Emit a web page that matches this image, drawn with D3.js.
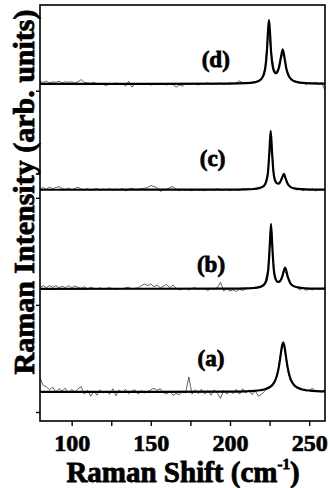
<!DOCTYPE html>
<html>
<head>
<meta charset="utf-8">
<script src="https://cdn.jsdelivr.net/npm/d3@7"></script>
<style>
body{margin:0;background:#fff}
svg text{font-family:"Liberation Serif","Times New Roman",serif;font-weight:bold;fill:#000;stroke:#000;stroke-width:0.8px}
</style>
</head>
<body>
<svg></svg>
<script>
// Raman spectra, four samples (a)-(d), stacked with vertical offsets
// raw data is sampled every 2 cm-1, fit curve is the thick black line

const shift_grid = [80,82,84,86,88,90,92,94,96,98,100,102,104,106,108,110,112,114,116,118,
  120,122,124,126,128,130,132,134,136,138,140,142,144,146,148,150,152,154,156,158,
  160,162,164,166,168,170,172,174,176,178,180,182,184,186,188,190,192,194,196,198,
  200,202,204,206,208,210,212,214,216,218,220,222,224,226,228,230,232,234,236,238,
  240,242,244,246,248,250,252,254,256,258,260];

// raw intensity (arb.) relative to each trace's baseline
const raw_a = [.13,.06,.05,.02,.045,0,.03,.01,.035,-.01,.025,0,.03,.05,-.02,.015,-.04,.01,-.03,.02,
  -.01,.005,-.02,.03,-.035,.02,-.01,.025,-.015,.01,.02,-.02,.015,-.01,.005,.02,.035,.015,.03,-.005,
  -.02,.01,-.03,-.015,-.025,.01,-.01,.14,-.02,.02,-.015,.025,-.02,.015,-.03,.02,-.01,-.06,.015,-.02,
  .01,-.015,.025,-.02,.03,-.01,.02,-.025,.01,-.04,-.02,.01,.04,.06,.09,.17,.36,.45,.24,.11,
  .07,.04,.03,.02,.01,.015,.035,.005,.01,0,.02];
const raw_b = [.01,.03,.01,.03,.015,.03,.01,.025,.01,.03,.01,.025,.015,.005,.02,0,.015,.005,0,.01,
  -.005,.005,.01,0,-.005,.005,0,.01,.015,0,.005,.01,.03,.045,.03,.045,.02,.035,.01,.025,
  .04,.01,.035,.005,-.01,0,.005,-.01,.005,.01,-.005,.005,0,-.015,.005,0,.01,.06,-.02,0,
  -.02,-.01,-.025,-.005,-.015,0,.005,.01,.005,.015,.03,.055,.19,.58,.10,.065,.085,.17,.13,.05,
  .02,.015,-.01,.005,-.015,0,-.01,.005,-.005,0,.01];
const raw_c = [.01,.02,.005,.025,.01,.02,.03,.01,.005,.015,0,.01,.025,.005,0,.01,-.005,.005,.01,-.005,
  .005,0,.01,-.005,.005,0,.01,-.01,.005,.015,0,.005,.01,.015,.02,.04,.03,.02,-.015,0,
  .005,.02,.03,.005,-.01,.005,-.005,0,-.01,.005,-.005,0,-.01,.005,0,-.005,.01,-.005,0,.005,
  -.01,.005,0,-.005,.01,.005,.01,.005,.01,.02,.025,.05,.17,.48,.08,.06,.08,.14,.07,.03,
  .015,0,.01,-.01,.005,-.005,.01,-.01,0,.005,-.005];
const raw_d = [.02,.015,.025,.01,.02,.015,.025,.01,.02,.015,.02,.01,.02,.04,.015,.01,.005,.015,0,.005,
  -.005,-.015,.005,0,.01,-.005,.005,-.02,.025,-.03,0,.005,-.005,0,.005,-.01,0,.005,-.005,0,
  -.01,.005,-.005,-.03,-.01,-.02,.005,-.005,.005,0,-.01,.005,0,.01,-.005,.005,0,.01,-.005,.005,
  .01,.005,.01,.03,.01,.015,.01,.015,.02,.03,.055,.14,.48,.30,.12,.12,.24,.28,.12,.055,
  .03,.02,.005,.015,-.005,.01,0,.015,.005,.01,-.06];

// fitted curves
const fit_x_a = [80,200,210,215,219,222,225,227,228.5,229.7,230.8,231.8,232.7,233.6,234.5,235.4,236.4,237.5,238.7,240.2,242.2,245.2,248.2,252.2,257.2,260];
const fit_y_a = [0,.0032,.0064,.0102,.0163,.0253,.0441,.0701,.1065,.1565,.23,.3255,.417,.46,.417,.3255,.23,.1565,.1065,.0701,.0441,.0253,.0163,.0102,.0064,.0054];
const fit_x_b = [80,200,210,215,218,220.7,222.2,223.2,224.2,225.1,225.9,226.7,227.6,228.7,229.7,230.7,231.8,233,234.8,236.5,238,240,243,248,254,260];
const fit_y_b = [0,.0017,.004,.0077,.014,.029,.053,.09,.183,.399,.607,.40,.189,.097,.07,.064,.075,.114,.199,.112,.055,.027,.013,.005,.002,.001];
const fit_x_c = [80,200,210,215,218,220.5,222,223,224,224.9,225.7,226.5,227.4,228.5,229.5,230.5,231.5,232.7,234,235.3,236.5,238,240.5,245,252,260];
const fit_y_c = [0,.0014,.0035,.007,.013,.026,.047,.081,.165,.361,.551,.364,.171,.087,.062,.057,.067,.105,.149,.099,.054,.028,.013,.005,.002,.001];
const fit_x_d = [80,200,210,215,218,220,221.5,222.5,223.3,224,224.6,225.2,226,227,228,229,230,231,232,233.3,234.5,235.5,237,239,242,246,252,260];
const fit_y_d = [0,.003,.007,.014,.027,.05,.095,.171,.302,.492,.596,.496,.29,.16,.113,.10,.115,.157,.235,.323,.238,.148,.077,.039,.019,.0095,.005,.002];

const sample_names = ['(a)','(b)','(c)','(d)'];
const sample_offsets = [0.187, 1.15, 2.075, 3.063];

const x_major = [100,150,200,250];
const x_minor = [125,175,225];
const y_ticks = [0,1,2,3];

// ---- svg
const W = 330, H = 488;
const svg = d3.select("svg").attr("width",W).attr("height",H);

const x_scale = d3.scaleLinear().domain([80,260]).range([40,325]);
const y_scale = d3.scaleLinear().domain([-0.084,3.80]).range([421,5]);

function zip(xs,ys,off){
  let n = Math.min(xs.length, ys.length);
  let out = [];
  for(let i=0;i<n;i++) out.push([xs[i], ys[i]+off]);
  return out;
}

const line_raw = d3.line().x(d=>x_scale(d[0])).y(d=>y_scale(d[1]));
const line_fit = d3.line().x(d=>x_scale(d[0])).y(d=>y_scale(d[1])).curve(d3.curveMonotoneX);

svg.append("clipPath").attr("id","plot_clip")
  .append("rect").attr("x",40).attr("y",5).attr("width",285).attr("height",416);

const plot_g = svg.append("g").attr("clip-path","url(#plot_clip)");

const raws = [raw_a, raw_b, raw_c, raw_d];
const fits = [[fit_x_a,fit_y_a],[fit_x_b,fit_y_b],[fit_x_c,fit_y_c],[fit_x_d,fit_y_d]];

raws.forEach((r,i)=>{
  plot_g.append("path").attr("d", line_raw(zip(shift_grid, r, sample_offsets[i])))
    .attr("fill","none").attr("stroke","#3a3a3a").attr("stroke-width",0.8);
});
fits.forEach((f,i)=>{
  plot_g.append("path").attr("d", line_fit(zip(f[0], f[1], sample_offsets[i])))
    .attr("fill","none").attr("stroke","#000").attr("stroke-width",2.2)
    .attr("stroke-linejoin","round");
});

// sample labels
const label_pos = [[188,0.43],[188,1.31],[189,2.30],[191,3.22]];
sample_names.forEach((s,i)=>{
  svg.append("text").attr("x",x_scale(label_pos[i][0])).attr("y",y_scale(label_pos[i][1]))
    .attr("text-anchor","middle").style("font-size","23px").text(s);
});

// axes
const ax_bottom = svg.append("g").attr("transform","translate(0,421)")
  .call(d3.axisBottom(x_scale).tickValues(x_major).tickSize(5).tickPadding(8).tickFormat(d3.format("d")));
svg.append("g").attr("transform","translate(0,421)")
  .call(d3.axisBottom(x_scale).tickValues(x_minor).tickSize(5).tickFormat(""));
svg.append("g").attr("transform","translate(40,0)")
  .call(d3.axisLeft(y_scale).tickValues(y_ticks).tickSize(4).tickFormat(""));

svg.selectAll(".domain").remove();
svg.selectAll(".tick line").attr("stroke","#000").attr("stroke-width",1.4);
ax_bottom.selectAll("text").style("font-size","24px").style("stroke-width","0.7px")
  .style("font-family",'"Liberation Serif","Times New Roman",serif').style("font-weight","bold");

// frame
svg.append("rect").attr("x",40).attr("y",5).attr("width",285).attr("height",416)
  .attr("fill","none").attr("stroke","#000").attr("stroke-width",1.6);

// axis titles
const xt = svg.append("text").attr("x",183).attr("y",482).attr("text-anchor","middle")
  .style("font-size","29px");
xt.append("tspan").text("Raman Shift (cm");
xt.append("tspan").attr("dy",-13).style("font-size","15px").text("-1");
xt.append("tspan").attr("dy",13).text(")");

svg.append("text").attr("transform","translate(34,192) rotate(-90)")
  .attr("text-anchor","middle").style("font-size","30px")
  .text("Raman Intensity (arb. units)");
</script>
</body>
</html>
